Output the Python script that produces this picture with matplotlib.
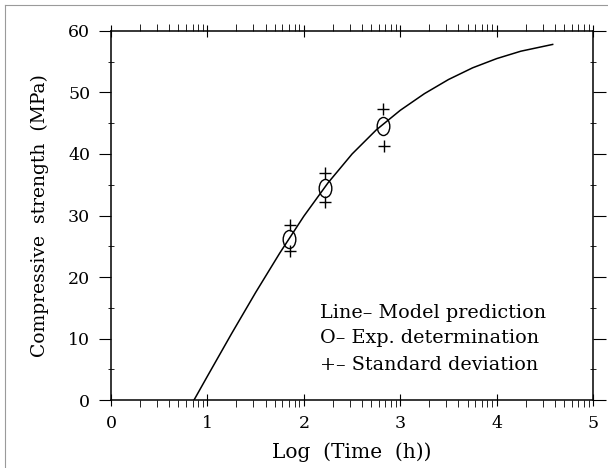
import numpy as np
import matplotlib
matplotlib.use("Agg")
import matplotlib.pyplot as plt
from matplotlib.path import Path
from matplotlib.transforms import Affine2D
from matplotlib.lines import Line2D

# model curve
curve_x = [0.86, 1.0, 1.25, 1.5, 1.75, 2.0, 2.25, 2.5, 2.75, 3.0,
           3.25, 3.5, 3.75, 4.0, 4.25, 4.58]
curve_y = [0.0, 3.9, 10.8, 17.5, 23.9, 29.9, 35.3, 40.0, 43.9, 47.1,
           49.8, 52.1, 54.0, 55.5, 56.7, 57.8]

# experimental points and std deviation marks
exp_x = [1.85, 2.22, 2.82]
exp_y = [26.2, 34.5, 44.6]
sd_x = [1.86, 1.86, 2.22, 2.22, 2.82, 2.83]
sd_y = [28.4, 24.2, 36.9, 32.2, 47.3, 41.3]

legend_lines = ["Line\u2013 Model prediction",
                "O\u2013 Exp. determination",
                "+\u2013 Standard deviation"]

plt.rcParams['font.family'] = ['DejaVu Serif']

fig = plt.figure(figsize=(6.08, 4.68), dpi=100)
ax = fig.add_axes([0.1826, 0.145, 0.793, 0.789])

ax.plot(curve_x, curve_y, color='black', linewidth=1.1)

ellipse = Path.unit_circle().transformed(Affine2D().scale(0.7, 1.0))
ax.plot(exp_x, exp_y, linestyle='none', marker=ellipse, markersize=13,
        markerfacecolor='none', markeredgecolor='black', markeredgewidth=1.0)
ax.plot(sd_x, sd_y, linestyle='none', marker='+', markersize=8,
        color='black', markeredgewidth=1.0)

ax.set_xlim(0, 5)
ax.set_ylim(0, 60)

ax.set_xticks([0, 1, 2, 3, 4, 5])
ax.set_yticks([0, 10, 20, 30, 40, 50, 60])
minor_x = [n + np.log10(k) for n in range(5) for k in range(2, 10)]
ax.set_xticks(minor_x, minor=True)
ax.set_yticks([5, 15, 25, 35, 45, 55], minor=True)

ax.tick_params(axis='x', which='major', direction='inout', length=9,
               top=True, bottom=True, labelsize=12.5, pad=6)
ax.tick_params(axis='x', which='minor', direction='out', length=5,
               top=True, bottom=True)
ax.tick_params(axis='y', which='major', direction='out', length=9,
               left=True, right=True, labelsize=12.5, pad=6)
ax.tick_params(axis='y', which='minor', direction='inout', length=4,
               left=True, right=True)

for s in ax.spines.values():
    s.set_linewidth(1.1)

ax.set_xlabel("Log  (Time  (h))", fontsize=14.5, labelpad=8)
ax.set_ylabel("Compressive  strength  (MPa)", fontsize=13.5, labelpad=14)

ys = [0.236, 0.168, 0.095]
for t, yy in zip(legend_lines, ys):
    ax.text(0.434, yy, t, transform=ax.transAxes, ha='left', va='center',
            fontsize=13.8)

# faint scan border of the original page
fig.add_artist(Line2D([0.008, 0.008], [0.0, 0.99], transform=fig.transFigure,
                      color='#9a9a9a', linewidth=0.8))
fig.add_artist(Line2D([0.008, 1.0], [0.99, 0.99], transform=fig.transFigure,
                      color='#9a9a9a', linewidth=0.8))

fig.savefig("out.png", dpi=100)
